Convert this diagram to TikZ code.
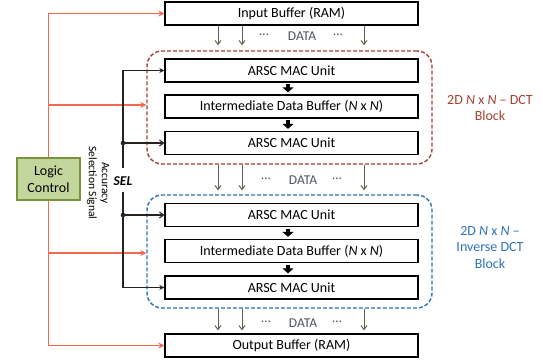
\documentclass[tikz,border=0pt]{standalone}
\usepackage{fontspec}
\setmainfont{Carlito}
\usetikzlibrary{arrows.meta}
\definecolor{redl}{RGB}{243,105,80}
\definecolor{dctred}{RGB}{165,65,50}
\definecolor{idctblue}{RGB}{45,115,185}
\definecolor{darr}{RGB}{100,95,75}
\definecolor{dtext}{RGB}{75,85,95}
\definecolor{lcfill}{RGB}{195,214,155}
\definecolor{lcdraw}{RGB}{119,147,60}
\definecolor{seln}{RGB}{40,35,30}
\begin{document}
\begin{tikzpicture}[x=1pt,y=-1pt,
  every node/.style={font=\fontsize{14}{17}\selectfont},
  box/.style={draw=black,line width=1.3pt,fill=white,minimum width=253pt,minimum height=23pt,inner sep=0pt},
  dctbox/.style={draw=dctred,dashed,dash pattern=on 4pt off 2pt,line width=1.4pt,rounded corners=15pt,minimum width=285pt,minimum height=113pt,inner sep=0pt},
  idctbox/.style={draw=idctblue,dashed,dash pattern=on 4pt off 2pt,line width=1.4pt,rounded corners=15pt,minimum width=285pt,minimum height=113pt,inner sep=0pt},
  dataarrow/.style={draw=darr,line width=1pt,-{Straight Barb[length=4pt,width=6pt]}},
  datalbl/.style={text=dtext,font=\fontsize{13.5}{16}\selectfont},
  redarrow/.style={draw=redl,line width=1.8pt,-{Stealth[length=6pt,width=6pt]}},
  selarrow/.style={draw=seln,line width=1.1pt,-{Straight Barb[length=4pt,width=6pt]}},
  selfill/.style={draw=seln,line width=1.1pt,-{Stealth[length=5pt,width=5pt]}},
  thickarr/.style={draw=black,line width=4pt,-{Triangle[width=11pt,length=5pt]}},
  sidelbl/.style={align=center,font=\fontsize{14}{16.5}\selectfont}
]
\useasboundingbox (0,0) rectangle (543,362);

% dashed blocks
\node[dctbox] (dct) at (289.5,107.5) {};
\node[idctbox] (idct) at (289.5,251.5) {};

% boxes
\node[box] (inb) at (291.5,13.5) {Input Buffer (RAM)};
\node[box] (a1) at (291.5,70.5) {ARSC MAC Unit};
\node[box] (i1) at (291.5,106.5) {Intermediate Data Buffer (\textit{N} x \textit{N})};
\node[box] (a2) at (291.5,143) {ARSC MAC Unit};
\node[box] (a3) at (291.5,215) {ARSC MAC Unit};
\node[box] (i2) at (291.5,251) {Intermediate Data Buffer (\textit{N} x \textit{N})};
\node[box] (a4) at (291.5,287.5) {ARSC MAC Unit};
\node[box] (outb) at (291.5,345.5) {Output Buffer (RAM)};

% logic control
\node[draw=lcdraw,fill=lcfill,line width=1.2pt,minimum width=63pt,minimum height=42pt,inner sep=0pt,align=center] (lc) at (48.5,179) {Logic\\Control};

% side labels
\node[sidelbl,text=dctred] (dctl) at (490,108) {2D \textit{N} x \textit{N} – DCT\\Block};
\node[sidelbl,text=idctblue] (idctl) at (490,247) {2D \textit{N} x \textit{N} –\\Inverse DCT\\Block};

% coordinates for vertical positions
\coordinate (d1) at (218,0);
\coordinate (d2) at (242,0);
\coordinate (d3) at (364,0);
\coordinate (ax) at (288,0);
\coordinate (sx) at (123,0);

% thick arrows
\draw[thickarr,shorten <=1.5pt,shorten >=2pt] (a1.south -| ax) -- (i1.north -| ax);
\draw[thickarr,shorten <=1.5pt,shorten >=2pt] (i1.south -| ax) -- (a2.north -| ax);
\draw[thickarr,shorten <=1.5pt,shorten >=2pt] (a3.south -| ax) -- (i2.north -| ax);
\draw[thickarr,shorten <=1.5pt,shorten >=2pt] (i2.south -| ax) -- (a4.north -| ax);

% data arrows
\foreach \d in {d1,d2,d3}{
  \draw[dataarrow,shorten >=5pt] (inb.south -| \d) -- (dct.north -| \d);
  \draw[dataarrow,shorten >=4pt] (dct.south -| \d) -- (idct.north -| \d);
  \draw[dataarrow,shorten >=3pt] (idct.south -| \d) -- (outb.north -| \d);
}
\node[datalbl] (dl1a) at (264,35) {\ldots};
\node[datalbl] (dl1b) at (302,36) {DATA};
\node[datalbl] (dl1c) at (338,35) {\ldots};
\node[datalbl] (dl2a) at (266,179) {\ldots};
\node[datalbl] (dl2b) at (303,180) {DATA};
\node[datalbl] (dl2c) at (337,179) {\ldots};
\node[datalbl] (dl3a) at (266,322) {\ldots};
\node[datalbl] (dl3b) at (303,323) {DATA};
\node[datalbl] (dl3c) at (337,322) {\ldots};

% red control lines
\coordinate (rt) at (lc.north |- inb.west);
\coordinate (rb) at (lc.south |- outb.west);
\draw[redarrow] (lc.north) -- (rt) -- (inb.west);
\draw[redarrow] (lc.north |- 0,105) -- (dct.west |- 0,105);
\draw[redarrow] (lc.south) -- (rb) -- (outb.west);
\draw[redarrow] (lc.south |- 0,253) -- (idct.west |- 0,253);

% SEL lines
\node[font=\fontsize{13.5}{16}\selectfont\bfseries\itshape] (sel) at (123,181) {SEL};
\node[rotate=-90,align=center,font=\fontsize{11.5}{13}\selectfont] (acc) at (98,183) {Accuracy\\Selection Signal};
\coordinate (st) at (123,168);
\coordinate (sb) at (123,192);
\draw[selfill] (st) |- (a1.west);
\draw[selarrow] (a2.west -| sx) -- (a2.west);
\fill[seln] (a2.west -| sx) circle (2.3pt);
\draw[selfill] (sb) |- (a4.west);
\draw[selarrow] (a3.west -| sx) -- (a3.west);
\fill[seln] (a3.west -| sx) circle (2.3pt);
\end{tikzpicture}
\end{document}
